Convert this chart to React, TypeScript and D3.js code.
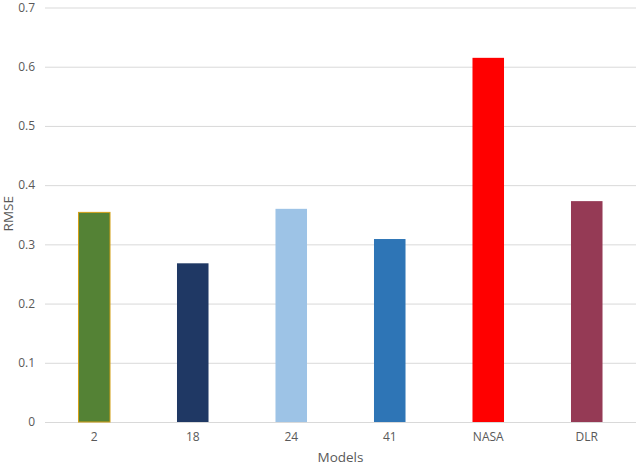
import React, { useEffect, useRef } from 'react';
import * as d3 from 'd3';

// chart values
const models = ['2', '18', '24', '41', 'NASA', 'DLR'];
const rmse = [0.354, 0.268, 0.36, 0.309, 0.615, 0.373];
const barColors = ['#548235', '#1F3864', '#9DC3E6', '#2E75B6', '#FF0000', '#953A55'];
const barStrokes = ['#D4A017', 'none', 'none', 'none', 'none', 'none'];
const yTicks = [0, 0.1, 0.2, 0.3, 0.4, 0.5, 0.6, 0.7];

const W = 638;
const H = 467;

const App = () => {
  const svgRef = useRef<SVGSVGElement>(null);

  useEffect(() => {
    const svg = d3.select(svgRef.current);
    svg.selectAll('*').remove();

    const margin = { top: 7.5, right: 2, bottom: 45, left: 45 };
    const w = W - margin.left - margin.right;
    const h = H - margin.top - margin.bottom;
    const font = "'Open Sans', 'Liberation Sans', sans-serif";

    const x = d3.scaleBand().domain(models).range([0, w]).paddingInner(0.68).paddingOuter(0.34);
    const y = d3.scaleLinear().domain([0, 0.7]).range([h, 0]);

    const g = svg.append('g').attr('transform', `translate(${margin.left},${margin.top})`);

    // grid lines
    g.selectAll('.grid')
      .data(yTicks)
      .enter().append('line')
      .attr('x1', 0)
      .attr('x2', w)
      .attr('y1', d => y(d) + 0.5)
      .attr('y2', d => y(d) + 0.5)
      .attr('stroke', '#D9D9D9')
      .attr('stroke-width', 1);

    // y tick labels
    g.selectAll('.ylab')
      .data(yTicks)
      .enter().append('text')
      .attr('x', -10)
      .attr('y', d => y(d))
      .attr('dy', '0.35em')
      .attr('text-anchor', 'end')
      .attr('fill', '#595959')
      .style('font-family', font)
      .style('font-size', '12px')
      .text(d => (d === 0 ? '0' : d3.format('.1f')(d)));

    // bars
    g.selectAll('.bar')
      .data(rmse)
      .enter().append('rect')
      .attr('x', (d, i) => x(models[i])!)
      .attr('y', d => y(d))
      .attr('width', x.bandwidth())
      .attr('height', d => h - y(d))
      .attr('fill', (d, i) => barColors[i])
      .attr('stroke', (d, i) => barStrokes[i])
      .attr('stroke-width', 1);

    // x labels
    g.selectAll('.xlab')
      .data(models)
      .enter().append('text')
      .attr('x', d => x(d)! + x.bandwidth() / 2)
      .attr('y', h + 19)
      .attr('text-anchor', 'middle')
      .attr('fill', '#595959')
      .style('font-family', font)
      .style('font-size', '12px')
      .text(d => d);

    // axis titles
    svg.append('text')
      .attr('x', margin.left + w / 2)
      .attr('y', H - 5)
      .attr('text-anchor', 'middle')
      .attr('fill', '#595959')
      .style('font-family', font)
      .style('font-size', '13.5px')
      .text('Models');

    svg.append('text')
      .attr('transform', `translate(13,${margin.top + h / 2 - 1}) rotate(-90)`)
      .attr('text-anchor', 'middle')
      .attr('fill', '#595959')
      .style('font-family', font)
      .style('font-size', '13.5px')
      .text('RMSE');
  }, []);

  return (
    <svg ref={svgRef} width={W} height={H} style={{ display: 'block', position: 'absolute', left: 0, top: 0, background: '#fff' }} />
  );
};

export default App;
